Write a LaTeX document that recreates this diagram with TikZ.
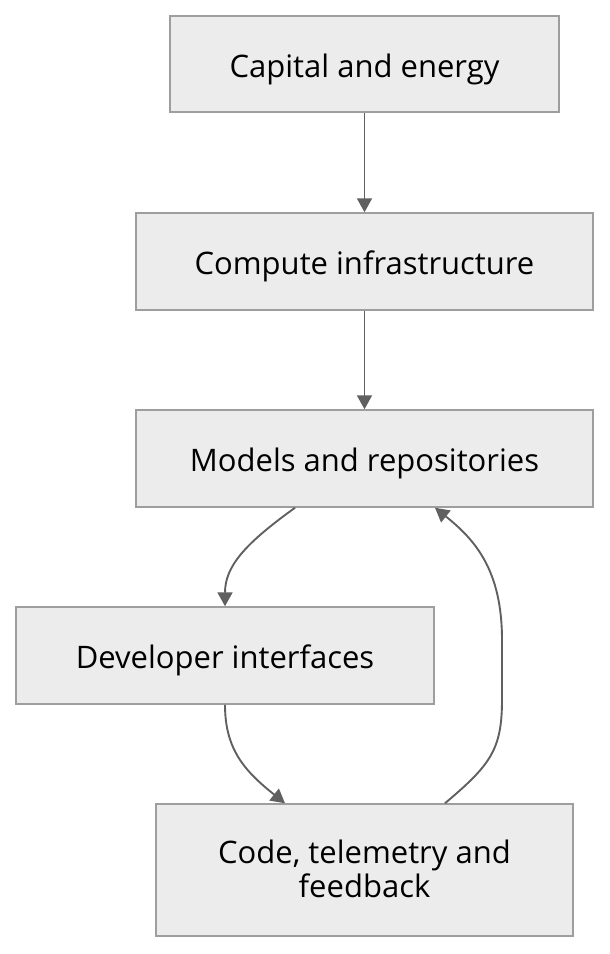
\documentclass[tikz,border=0pt]{standalone}
\usepackage{fontspec}
\setmainfont{Open Sans}
\usetikzlibrary{arrows.meta,calc}
\definecolor{boxfill}{HTML}{ECECEC}
\definecolor{boxline}{HTML}{9E9E9E}
\definecolor{edgecol}{HTML}{606060}
\tikzset{
  box/.style={draw=boxline, fill=boxfill, line width=1.5pt, rectangle, inner sep=0pt,
    align=center, font=\fontsize{31}{34}\selectfont},
  oneline/.style={text height=33pt, text depth=7pt},
  edge/.style={draw=edgecol, line width=1.9pt, -{Triangle[length=14pt,width=15pt]}}
}
\begin{document}
\begin{tikzpicture}[x=1pt,y=-1pt]
\useasboundingbox (0,0) rectangle (610,954);
\node[box, oneline, minimum width=389pt, minimum height=96pt] (cap) at (364.5,64) {Capital and energy};
\node[box, oneline, minimum width=457pt, minimum height=97pt] (comp) at (364.5,261.5) {Compute infrastructure};
\node[box, oneline, minimum width=457pt, minimum height=97pt] (mod) at (364.5,458.5) {Models and repositories};
\node[box, oneline, minimum width=418pt, minimum height=97pt] (dev) at (225,655.5) {Developer interfaces};
\node[box, text depth=3pt, minimum width=417pt, minimum height=132pt] (code) at (364.5,870) {Code, telemetry and\\feedback};
\draw[edge] (cap.south) -- (comp.north);
\draw[edge] (comp.south) -- (mod.north);
\draw[edge] ($(mod.south)+(-69.5,0)$) .. controls +(-50,36) and +(0,-40) .. (dev.north);
\draw[edge] (dev.south) .. controls +(0,45) and +(-40,-32) .. ($(code.north)+(-79.5,0)$);
\draw[edge] ($(code.north)+(80.5,0)$) .. controls +(45,-38) and +(0,50) .. (502,700)
  -- (502,640) .. controls +(0,-70) and +(40,32) .. ($(mod.south)+(70.5,0)$);
\end{tikzpicture}
\end{document}
